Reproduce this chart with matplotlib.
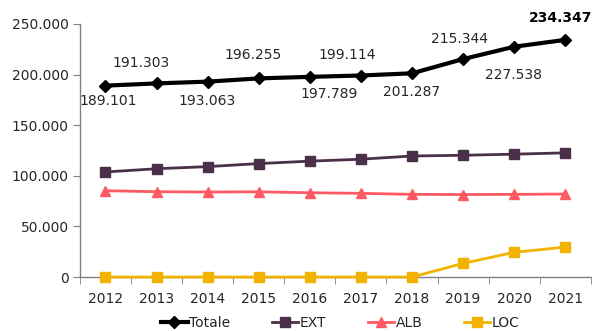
import matplotlib.pyplot as plt
from matplotlib.ticker import FuncFormatter

anni = [2012, 2013, 2014, 2015, 2016, 2017, 2018, 2019, 2020, 2021]
totale = [189101, 191303, 193063, 196255, 197789, 199114, 201287, 215344, 227538, 234347]
ext = [103800, 107000, 109100, 112100, 114500, 116400, 119600, 120300, 121400, 122700]
alb = [85300, 84300, 84000, 84200, 83300, 82700, 81700, 81500, 81700, 82000]
loc = [0, 0, 0, 0, 0, 0, 0, 13500, 24400, 29600]

# spostamento delle etichette (pixel) rispetto al punto
off_x = [3, -15, -1, -6, 19, -14, 0, -4, -1, -5]
off_y = [-15, 20, -19, 23, -17, 21, -19, 20, -28, 22]

plt.rcParams['font.family'] = 'DejaVu Sans'
testo = '#262626'

fig = plt.figure(figsize=(5.92, 3.31), dpi=100)
ax = fig.add_axes([0.135, 0.163, 0.863, 0.7645])

x = list(range(len(anni)))
ax.plot(x, totale, color='black', lw=3, marker='D', ms=6, label='Totale', zorder=5)
ax.plot(x, ext, color='#4b3049', lw=2, marker='s', ms=7, label='EXT', zorder=4)
ax.plot(x, alb, color='#ff5a64', lw=2, marker='^', ms=7, label='ALB', zorder=3)
ax.plot(x, loc, color='#f2b200', lw=2, marker='s', ms=7, label='LOC', zorder=3,
        clip_on=False)

def fmt(v):
    return f"{v:,.0f}".replace(',', '.')

for i, v in enumerate(totale):
    ultimo = i == len(totale) - 1
    ax.annotate(fmt(v), (x[i], v), xytext=(off_x[i], off_y[i]),
                textcoords='offset pixels', ha='center', va='center',
                fontsize=10, color='black' if ultimo else testo,
                fontweight='bold' if ultimo else 'normal', annotation_clip=False)

ax.set_xlim(-0.5, len(anni) - 0.5)
ax.set_ylim(0, 250000)
ax.set_yticks(range(0, 250001, 50000))
ax.yaxis.set_major_formatter(FuncFormatter(lambda v, p: fmt(v)))

ax.set_xticks(x)
ax.set_xticklabels([str(a) for a in anni])
ax.set_xticks([i + 0.5 for i in range(-1, len(anni))], minor=True)
ax.tick_params(axis='x', which='major', length=0, pad=11, labelsize=10, labelcolor=testo)
ax.tick_params(axis='x', which='minor', length=5, color='#808080')
ax.tick_params(axis='y', length=5, color='#808080', labelsize=10, labelcolor=testo, pad=3)

for s in ['top', 'right']:
    ax.spines[s].set_visible(False)
for s in ['left', 'bottom']:
    ax.spines[s].set_color('#808080')
    ax.spines[s].set_linewidth(1)

fig.legend(loc='lower center', bbox_to_anchor=(0.575, -0.035), ncol=4, frameon=False,
           fontsize=10, handlelength=1.9, handletextpad=0.1, columnspacing=3.0,
           labelcolor=testo)

fig.savefig('out.png', dpi=100)
